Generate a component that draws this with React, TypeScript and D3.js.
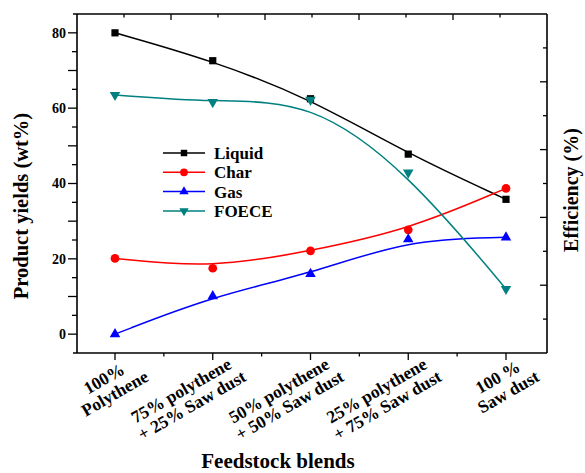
import React, { useEffect, useRef } from 'react';
import * as d3 from 'd3';

// feedstock blends (two text lines each)
const categories = [
  ['100%', 'Polythene'],
  ['75% polythene', '+ 25% Saw dust'],
  ['50% polythene', '+ 50% Saw dust'],
  ['25% polythene', '+ 75% Saw dust'],
  ['100 %', 'Saw dust'],
];
const liquid = [80, 72.6, 62.5, 47.8, 35.8];
const char = [20.1, 17.5, 22.1, 27.7, 38.7];
const gas = [0, 10.1, 16, 25.2, 25.7];
const foece = [63.5, 61.6, 62.2, 42.9, 12];
const yTicks = [0, 20, 40, 60, 80];
const seriesNames = ['Liquid', 'Char', 'Gas', 'FOECE'];

const W = 585;
const H = 473;
const FONT = '"Liberation Serif", "Times New Roman", serif';

const App = () => {
  const ref = useRef<SVGSVGElement | null>(null);

  useEffect(() => {
    const svg = d3.select(ref.current);
    svg.selectAll('*').remove();

    const left = 77, right = 547, top = 14, bottom = 353;

    const x = d3.scaleLinear().domain([0, categories.length - 1]).range([115, 506]);
    const y = d3.scaleLinear().domain([-5, 85]).range([bottom, top]);
    const yRight = d3.scaleLinear().domain([0, 100]).range([bottom, top]);
    const xTop = d3.scaleLinear().domain([0, 10]).range([left, right]);

    const series = [
      { name: seriesNames[0], values: liquid, color: '#000000', symbol: d3.symbolSquare, size: 52, rot: 0 },
      { name: seriesNames[1], values: char, color: '#ff0000', symbol: d3.symbolCircle, size: 60, rot: 0 },
      { name: seriesNames[2], values: gas, color: '#0000ff', symbol: d3.symbolTriangle, size: 48, rot: 0 },
      { name: seriesNames[3], values: foece, color: '#008080', symbol: d3.symbolTriangle, size: 48, rot: 180 },
    ];

    const g = svg.append('g');

    // left axis ticks
    d3.range(0, 81, 5).forEach(v => {
      const len = v % 10 === 0 ? 9 : 5;
      g.append('line')
        .attr('x1', left - len).attr('x2', left)
        .attr('y1', y(v)).attr('y2', y(v))
        .attr('stroke', '#000').attr('stroke-width', 1.3);
    });
    g.selectAll('.ylab')
      .data(yTicks)
      .enter()
      .append('text')
      .attr('x', 66)
      .attr('y', d => y(d))
      .attr('dy', '0.35em')
      .attr('text-anchor', 'end')
      .style('font-family', FONT)
      .style('font-weight', 'bold')
      .style('font-size', '14px')
      .text(d => d);

    // right axis ticks (inward)
    d3.range(10, 100, 10).forEach(v => {
      const len = v % 20 === 0 ? 7 : 4;
      g.append('line')
        .attr('x1', right - len).attr('x2', right)
        .attr('y1', yRight(v)).attr('y2', yRight(v))
        .attr('stroke', '#000').attr('stroke-width', 1.3);
    });

    // top axis ticks (inward)
    d3.range(1, 10).forEach(v => {
      const len = v % 2 === 0 ? 6 : 3.5;
      g.append('line')
        .attr('x1', xTop(v)).attr('x2', xTop(v))
        .attr('y1', top).attr('y2', top + len)
        .attr('stroke', '#000').attr('stroke-width', 1.3);
    });

    // bottom axis ticks (outward)
    d3.range(0, categories.length - 0.5, 0.5).forEach(v => {
      const len = v % 1 === 0 ? 7 : 3.5;
      g.append('line')
        .attr('x1', x(v)).attr('x2', x(v))
        .attr('y1', bottom).attr('y2', bottom + len)
        .attr('stroke', '#000').attr('stroke-width', 1.3);
    });

    // frame
    g.append('line').attr('x1', left - 4).attr('x2', right).attr('y1', top).attr('y2', top)
      .attr('stroke', '#000').attr('stroke-width', 1.6);
    g.append('line').attr('x1', left - 4).attr('x2', right).attr('y1', bottom).attr('y2', bottom)
      .attr('stroke', '#000').attr('stroke-width', 1.6);
    g.append('line').attr('x1', left).attr('x2', left).attr('y1', top).attr('y2', bottom)
      .attr('stroke', '#000').attr('stroke-width', 1.6);
    g.append('line').attr('x1', right).attr('x2', right).attr('y1', top).attr('y2', bottom)
      .attr('stroke', '#000').attr('stroke-width', 1.6);

    // x tick labels, rotated, top-right corner near the tick
    categories.forEach((lines, i) => {
      const lab = g.append('g');
      const t = lab.append('text')
        .attr('text-anchor', 'middle')
        .style('font-family', FONT)
        .style('font-weight', 'bold')
        .style('font-size', '17.5px');
      t.append('tspan').attr('x', 0).attr('y', -4).text(lines[0]);
      t.append('tspan').attr('x', 2).attr('y', 14).text(lines[1]);
      const w = (t.node() as SVGTextElement).getBBox().width;
      const h = 32;
      const cx = x(i) + 18 - 0.433 * w + 0.25 * h;
      const cy = bottom + 2 + 0.25 * w + 0.433 * h;
      lab.attr('transform', `translate(${cx},${cy}) rotate(-30)`);
    });

    // lines and markers
    const line = d3.line<number>()
      .x((d, i) => x(i))
      .y(d => y(d))
      .curve(d3.curveBasis);

    series.forEach(s => {
      g.append('path')
        .attr('d', line(s.values))
        .attr('fill', 'none')
        .attr('stroke', s.color)
        .attr('stroke-width', 1.5);
    });
    series.forEach(s => {
      const sym = d3.symbol().type(s.symbol).size(s.size);
      g.selectAll(null)
        .data(s.values)
        .enter()
        .append('path')
        .attr('d', sym())
        .attr('transform', (d, i) => `translate(${x(i)},${y(d)}) rotate(${s.rot})`)
        .attr('fill', s.color);
    });

    // legend
    const legend = g.append('g').attr('transform', 'translate(163,153)');
    series.forEach((s, i) => {
      const row = legend.append('g').attr('transform', `translate(0,${i * 19.3})`);
      row.append('line').attr('x1', 0).attr('x2', 42).attr('y1', 0).attr('y2', 0)
        .attr('stroke', s.color).attr('stroke-width', 1.5);
      row.append('path')
        .attr('d', d3.symbol().type(s.symbol).size(s.size * 0.8)())
        .attr('transform', `translate(21,0) rotate(${s.rot})`)
        .attr('fill', s.color);
      row.append('text')
        .attr('x', 51).attr('y', 6)
        .style('font-family', FONT)
        .style('font-weight', 'bold')
        .style('font-size', '17px')
        .text(s.name);
    });

    // axis titles
    g.append('text')
      .attr('transform', `translate(28,206) rotate(-90)`)
      .attr('text-anchor', 'middle')
      .style('font-family', FONT).style('font-weight', 'bold').style('font-size', '20.5px')
      .text('Product yields (wt%)');
    g.append('text')
      .attr('transform', `translate(578,190) rotate(-90)`)
      .attr('text-anchor', 'middle')
      .style('font-family', FONT).style('font-weight', 'bold').style('font-size', '20px')
      .text('Efficiency (%)');
    g.append('text')
      .attr('x', 278).attr('y', 468)
      .attr('text-anchor', 'middle')
      .style('font-family', FONT).style('font-weight', 'bold').style('font-size', '21px')
      .text('Feedstock blends');
  }, []);

  return (
    <svg
      ref={ref}
      width={W}
      height={H}
      style={{ position: 'absolute', left: 0, top: 0, background: '#fff' }}
    />
  );
};

export default App;
